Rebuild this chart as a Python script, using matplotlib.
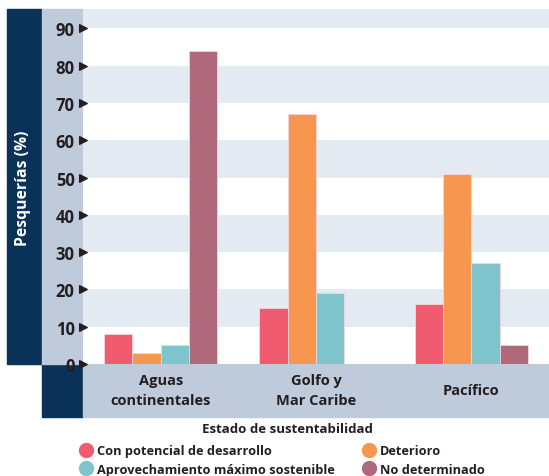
import matplotlib
matplotlib.use("Agg")
import matplotlib.pyplot as plt
from matplotlib.patches import Rectangle
from matplotlib.lines import Line2D
import numpy as np

plt.rcParams["font.family"] = ["Open Sans", "DejaVu Sans"]

# datos
regiones = ["Aguas\ncontinentales", "Golfo y\nMar Caribe", "Pacífico"]
estados = ["Con potencial de desarrollo", "Deterioro",
           "Aprovechamiento máximo sostenible", "No determinado"]
potencial = [8, 15, 16]
deterioro = [3, 67, 51]
aprovechamiento = [5, 19, 27]
no_determinado = [84, 0, 5]
yticks = [0, 10, 20, 30, 40, 50, 60, 70, 80, 90]

colores = ["#f05b6f", "#f7964f", "#7fc3cc", "#b0697b"]
navy = "#0a3157"
gris = "#bfcadb"
franja = "#e3eaf2"
texto = "#231f20"

W, H = 549, 477
fig = plt.figure(figsize=(W / 100, H / 100), dpi=100)


def fx(px):
    return px / W


def fy(py):
    return 1 - py / H


# fondos (detras de los ejes)
for (x0, y0, x1, y1, c) in [(7, 10, 42, 365, navy), (42, 365, 83, 418, navy),
                            (42, 10, 83, 365, gris), (83, 365, 549, 418, gris)]:
    fig.patches.append(Rectangle((fx(x0), fy(y1)), fx(x1 - x0), (y1 - y0) / H,
                                 transform=fig.transFigure, color=c, zorder=-5))

ax = fig.add_axes([fx(83), fy(365), fx(466), 355 / H])
ax.set_facecolor("white")
ax.patch.set_zorder(-1)

for y0 in range(10, 100, 20):
    ax.axhspan(y0, y0 + 10, color=franja, zorder=0, lw=0)

x = np.arange(len(regiones))
ancho = 0.182
series = [potencial, deterioro, aprovechamiento, no_determinado]
for i, (vals, c) in enumerate(zip(series, colores)):
    ax.bar(x + (i - 1.5) * ancho, vals, ancho, color=c, edgecolor="#f3d6dc",
           linewidth=0.6, zorder=2)

ax.set_xlim(-0.5, 2.5)
ax.set_ylim(0, 95.2)
ax.set_yticks(yticks)
ax.set_yticklabels([str(t) for t in yticks], fontsize=12, fontweight="bold", color=texto)
ax.tick_params(axis="y", length=0, pad=6)
for t in ax.yaxis.get_major_ticks():
    t.tick1line.set_marker(">")
    t.tick1line.set_markersize(6)
    t.tick1line.set_markerfacecolor(texto)
    t.tick1line.set_markeredgecolor(texto)
    t.tick1line.set_visible(True)
    t.tick1line.set_zorder(5)
    t.tick1line.set_clip_on(False)
ax.set_xticks(x)
ax.set_xticklabels(regiones, fontsize=10.5, fontweight="bold", color=texto, linespacing=1.5)
for lab in ax.get_xticklabels():
    lab.set_verticalalignment("center")
ax.tick_params(axis="x", length=0, pad=18.7)
for s in ax.spines.values():
    s.set_visible(False)

fig.text(fx(23), fy(188), "Pesquerías (%)", rotation=90, color="white", fontsize=11.3,
         fontweight="bold", ha="center", va="center")
fig.text(fx(287), fy(430), "Estado de sustentabilidad", fontsize=9.5, fontweight="bold",
         color=texto, ha="center", va="center")

orden = [0, 2, 1, 3]
handles = [Line2D([], [], marker="o", linestyle="none", markersize=10,
                  color=colores[i]) for i in orden]
fig.legend(handles, [estados[i] for i in orden], ncol=2, frameon=False,
           loc="upper left", bbox_to_anchor=(fx(71), fy(440)),
           prop={"size": 9.2, "weight": "bold"}, labelcolor=texto,
           handletextpad=0.1, columnspacing=1.95, labelspacing=0.45,
           handlelength=1.5, borderaxespad=0)

fig.savefig("out.png", dpi=100)
